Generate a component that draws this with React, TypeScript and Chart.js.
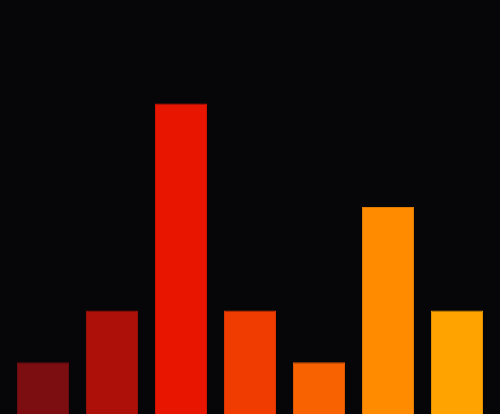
import { useEffect, useRef } from "react"
import { Chart, registerables } from "chart.js"

Chart.register(...registerables)

const categories = ["A", "B", "C", "D", "E", "F", "G"]
const values = [1, 2, 6, 2, 1, 4, 2]
const barColors = ["#7c0e12", "#ad1008", "#e81500", "#f03c00", "#f86200", "#ff8c00", "#ffa300"]
const borderColors = ["#6a0c10", "#981007", "#cf1400", "#d83600", "#de5700", "#e07b00", "#e09000"]

export default function App() {
  const chartRef = useRef<HTMLCanvasElement>(null)
  const chartInstance = useRef<Chart | null>(null)

  useEffect(() => {
    if (!chartRef.current) return
    if (chartInstance.current) chartInstance.current.destroy()

    const ctx = chartRef.current.getContext("2d")
    if (!ctx) return

    chartInstance.current = new Chart(ctx, {
      type: "bar",
      data: {
        labels: categories,
        datasets: [
          {
            data: values,
            backgroundColor: barColors,
            borderColor: borderColors,
            borderWidth: 1,
            categoryPercentage: 1,
            barPercentage: 0.754,
          },
        ],
      },
      options: {
        animation: false,
        responsive: true,
        maintainAspectRatio: false,
        layout: { padding: { left: 8.5, right: 8.5, top: 0, bottom: 0 } },
        plugins: {
          legend: { display: false },
          tooltip: { enabled: false },
        },
        scales: {
          x: { display: false },
          y: { display: false, min: 0, max: 8 },
        },
      },
    })

    return () => {
      if (chartInstance.current) {
        chartInstance.current.destroy()
        chartInstance.current = null
      }
    }
  }, [])

  return (
    <div
      style={{
        position: "fixed",
        left: 0,
        top: 0,
        width: 500,
        height: 414,
        background: "#060608",
      }}
    >
      <canvas ref={chartRef}></canvas>
    </div>
  )
}
